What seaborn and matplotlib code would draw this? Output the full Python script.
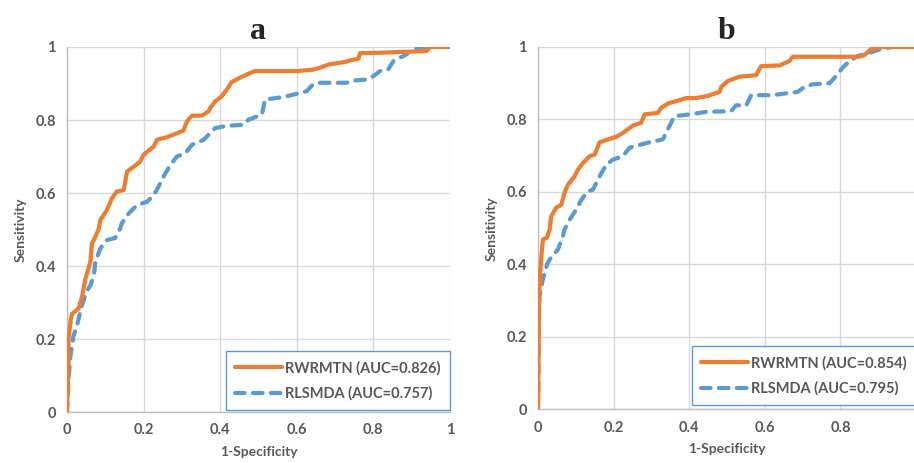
import pandas as pd
import seaborn as sns
import matplotlib
matplotlib.use("Agg")
import matplotlib.pyplot as plt

# ROC points, panel a
a_rwr_fpr = [0, 0.004, 0.004, 0.01, 0.013, 0.03, 0.039, 0.048, 0.061, 0.065, 0.074, 0.083, 0.087,
             0.104, 0.117, 0.13, 0.148, 0.157, 0.174, 0.191, 0.2, 0.226, 0.235, 0.261, 0.278, 0.304,
             0.313, 0.326, 0.352, 0.37, 0.374, 0.387, 0.404, 0.417, 0.43, 0.452, 0.47, 0.491, 0.6,
             0.643, 0.66, 0.683, 0.726, 0.743, 0.761, 0.765, 0.809, 0.939, 0.948, 1.0]
a_rwr_tpr = [0, 0.136, 0.2, 0.255, 0.269, 0.283, 0.315, 0.365, 0.411, 0.461, 0.48, 0.503, 0.526,
             0.553, 0.585, 0.604, 0.608, 0.659, 0.672, 0.686, 0.705, 0.727, 0.746, 0.753, 0.76, 0.771,
             0.796, 0.812, 0.812, 0.824, 0.833, 0.851, 0.865, 0.883, 0.904, 0.916, 0.925, 0.934, 0.934,
             0.938, 0.943, 0.952, 0.959, 0.964, 0.968, 0.983, 0.984, 0.989, 1.0, 1.0]
a_rls_fpr = [0, 0.004, 0.009, 0.017, 0.026, 0.039, 0.05, 0.061, 0.07, 0.074, 0.087, 0.104, 0.126,
             0.139, 0.143, 0.161, 0.183, 0.209, 0.226, 0.239, 0.252, 0.27, 0.287, 0.309, 0.326, 0.357,
             0.37, 0.387, 0.417, 0.461, 0.474, 0.509, 0.517, 0.565, 0.609, 0.626, 0.639, 0.661, 0.73,
             0.748, 0.783, 0.8, 0.817, 0.839, 0.852, 0.87, 0.887, 0.896, 0.922, 1.0]
a_rls_tpr = [0, 0.09, 0.154, 0.209, 0.237, 0.292, 0.328, 0.347, 0.374, 0.411, 0.448, 0.471, 0.477,
             0.503, 0.517, 0.544, 0.567, 0.576, 0.594, 0.617, 0.645, 0.677, 0.7, 0.709, 0.732, 0.746,
             0.76, 0.778, 0.784, 0.787, 0.801, 0.815, 0.856, 0.863, 0.874, 0.879, 0.894, 0.902, 0.902,
             0.908, 0.911, 0.92, 0.934, 0.939, 0.961, 0.971, 0.98, 0.989, 1.0, 1.0]

# panel b
b_rwr_fpr = [0, 0.002, 0.003, 0.006, 0.009, 0.013, 0.024, 0.031, 0.035, 0.048, 0.062, 0.07, 0.079,
             0.097, 0.106, 0.119, 0.137, 0.15, 0.163, 0.185, 0.207, 0.225, 0.251, 0.273, 0.282, 0.317,
             0.326, 0.344, 0.374, 0.392, 0.419, 0.449, 0.48, 0.485, 0.502, 0.533, 0.577, 0.59, 0.639,
             0.665, 0.674, 0.85, 0.863, 0.881, 0.912, 1.0]
b_rwr_tpr = [0, 0.22, 0.313, 0.377, 0.423, 0.469, 0.474, 0.497, 0.533, 0.556, 0.565, 0.597, 0.62,
             0.643, 0.662, 0.68, 0.699, 0.703, 0.737, 0.745, 0.752, 0.763, 0.783, 0.791, 0.814, 0.818,
             0.832, 0.844, 0.853, 0.859, 0.859, 0.865, 0.876, 0.89, 0.906, 0.918, 0.922, 0.947, 0.949,
             0.961, 0.973, 0.973, 0.977, 0.994, 1.0, 1.0]
b_rls_fpr = [0, 0.001, 0.002, 0.004, 0.013, 0.024, 0.031, 0.053, 0.066, 0.07, 0.084, 0.101, 0.115,
             0.132, 0.145, 0.163, 0.181, 0.198, 0.225, 0.242, 0.273, 0.295, 0.33, 0.339, 0.361, 0.401,
             0.445, 0.511, 0.524, 0.551, 0.564, 0.621, 0.656, 0.687, 0.705, 0.727, 0.771, 0.789, 0.806,
             0.824, 0.846, 0.877, 0.907, 0.937, 1.0]
b_rls_tpr = [0, 0.055, 0.221, 0.313, 0.359, 0.4, 0.414, 0.442, 0.478, 0.496, 0.524, 0.551, 0.579,
             0.602, 0.606, 0.643, 0.676, 0.689, 0.699, 0.722, 0.731, 0.737, 0.745, 0.763, 0.809, 0.814,
             0.821, 0.823, 0.839, 0.839, 0.867, 0.867, 0.872, 0.876, 0.89, 0.897, 0.9, 0.92, 0.943,
             0.961, 0.975, 0.984, 0.994, 1.0, 1.0]

panel_titles = ['a', 'b']
rwr_labels = ['RWRMTN (AUC=0.826)', 'RWRMTN (AUC=0.854)']
rls_labels = ['RLSMDA (AUC=0.757)', 'RLSMDA (AUC=0.795)']
tick_vals = [0, 0.2, 0.4, 0.6, 0.8, 1.0]
tick_text = ['0', '0.2', '0.4', '0.6', '0.8', '1']

sns.set_style("whitegrid")
plt.rcParams['font.family'] = ['Lato', 'DejaVu Sans']

orange = '#ED7D31'
blue = '#5B9BD5'
gray_txt = '#595959'

fig = plt.figure(figsize=(9.14, 4.63), dpi=100)
ax_a = fig.add_axes([0.0733, 0.110, 0.419, 0.7885])
ax_b = fig.add_axes([0.5886, 0.1156, 0.4136, 0.783])

curves = [
    (ax_a, a_rwr_fpr, a_rwr_tpr, a_rls_fpr, a_rls_tpr),
    (ax_b, b_rwr_fpr, b_rwr_tpr, b_rls_fpr, b_rls_tpr),
]

for i, (ax, rf, rt, lf, lt) in enumerate(curves):
    df_rwr = pd.DataFrame({'fpr': rf, 'tpr': rt})
    df_rls = pd.DataFrame({'fpr': lf, 'tpr': lt})
    sns.lineplot(data=df_rls, x='fpr', y='tpr', ax=ax, sort=False, estimator=None,
                 color=blue, linewidth=3, label=rls_labels[i], zorder=3)
    sns.lineplot(data=df_rwr, x='fpr', y='tpr', ax=ax, sort=False, estimator=None,
                 color=orange, linewidth=3, label=rwr_labels[i], zorder=4)
    blue_line = ax.lines[0]
    blue_line.set_dashes((2.3, 2.0))
    blue_line.set_dash_capstyle('round')

    ax.set_xlim(0, 1)
    ax.set_ylim(0, 1)
    ax.set_xticks(tick_vals)
    ax.set_xticklabels(tick_text)
    ax.set_yticks(tick_vals)
    ax.set_yticklabels(tick_text)
    ax.tick_params(length=0, labelsize=10.5, labelcolor=gray_txt, pad=8)
    for lab in ax.get_xticklabels() + ax.get_yticklabels():
        lab.set_fontweight('bold')
    ax.grid(True, color='#D9D9D9', linewidth=1)
    for side in ['top', 'right']:
        ax.spines[side].set_visible(False)
    for side in ['left', 'bottom']:
        ax.spines[side].set_color('#BFBFBF')
        ax.spines[side].set_linewidth(1)
    ax.set_xlabel('1-Specificity', fontsize=10, fontweight='bold', color=gray_txt, labelpad=6)
    ax.set_ylabel('Sensitivity', fontsize=10, fontweight='bold', color=gray_txt, labelpad=6)
    ax.set_title(panel_titles[i], fontsize=23, fontweight='bold', family='Liberation Serif', pad=6)

    handles, labels = ax.get_legend_handles_labels()
    leg = ax.legend(handles[::-1], labels[::-1], loc='lower right',
                    bbox_to_anchor=(1.0, 0.005 if i == 0 else 0.012), borderaxespad=0,
                    fontsize=10.5, frameon=True, fancybox=False, framealpha=1,
                    handlelength=3.2, handletextpad=0.2, borderpad=0.65, labelspacing=0.75)
    leg.get_frame().set_edgecolor(blue)
    leg.get_frame().set_linewidth(1)
    for t in leg.get_texts():
        t.set_color(gray_txt)
        t.set_fontweight('bold')
    leg.get_lines()[1].set_dash_capstyle('round')

fig.savefig('out.png', dpi=100)
